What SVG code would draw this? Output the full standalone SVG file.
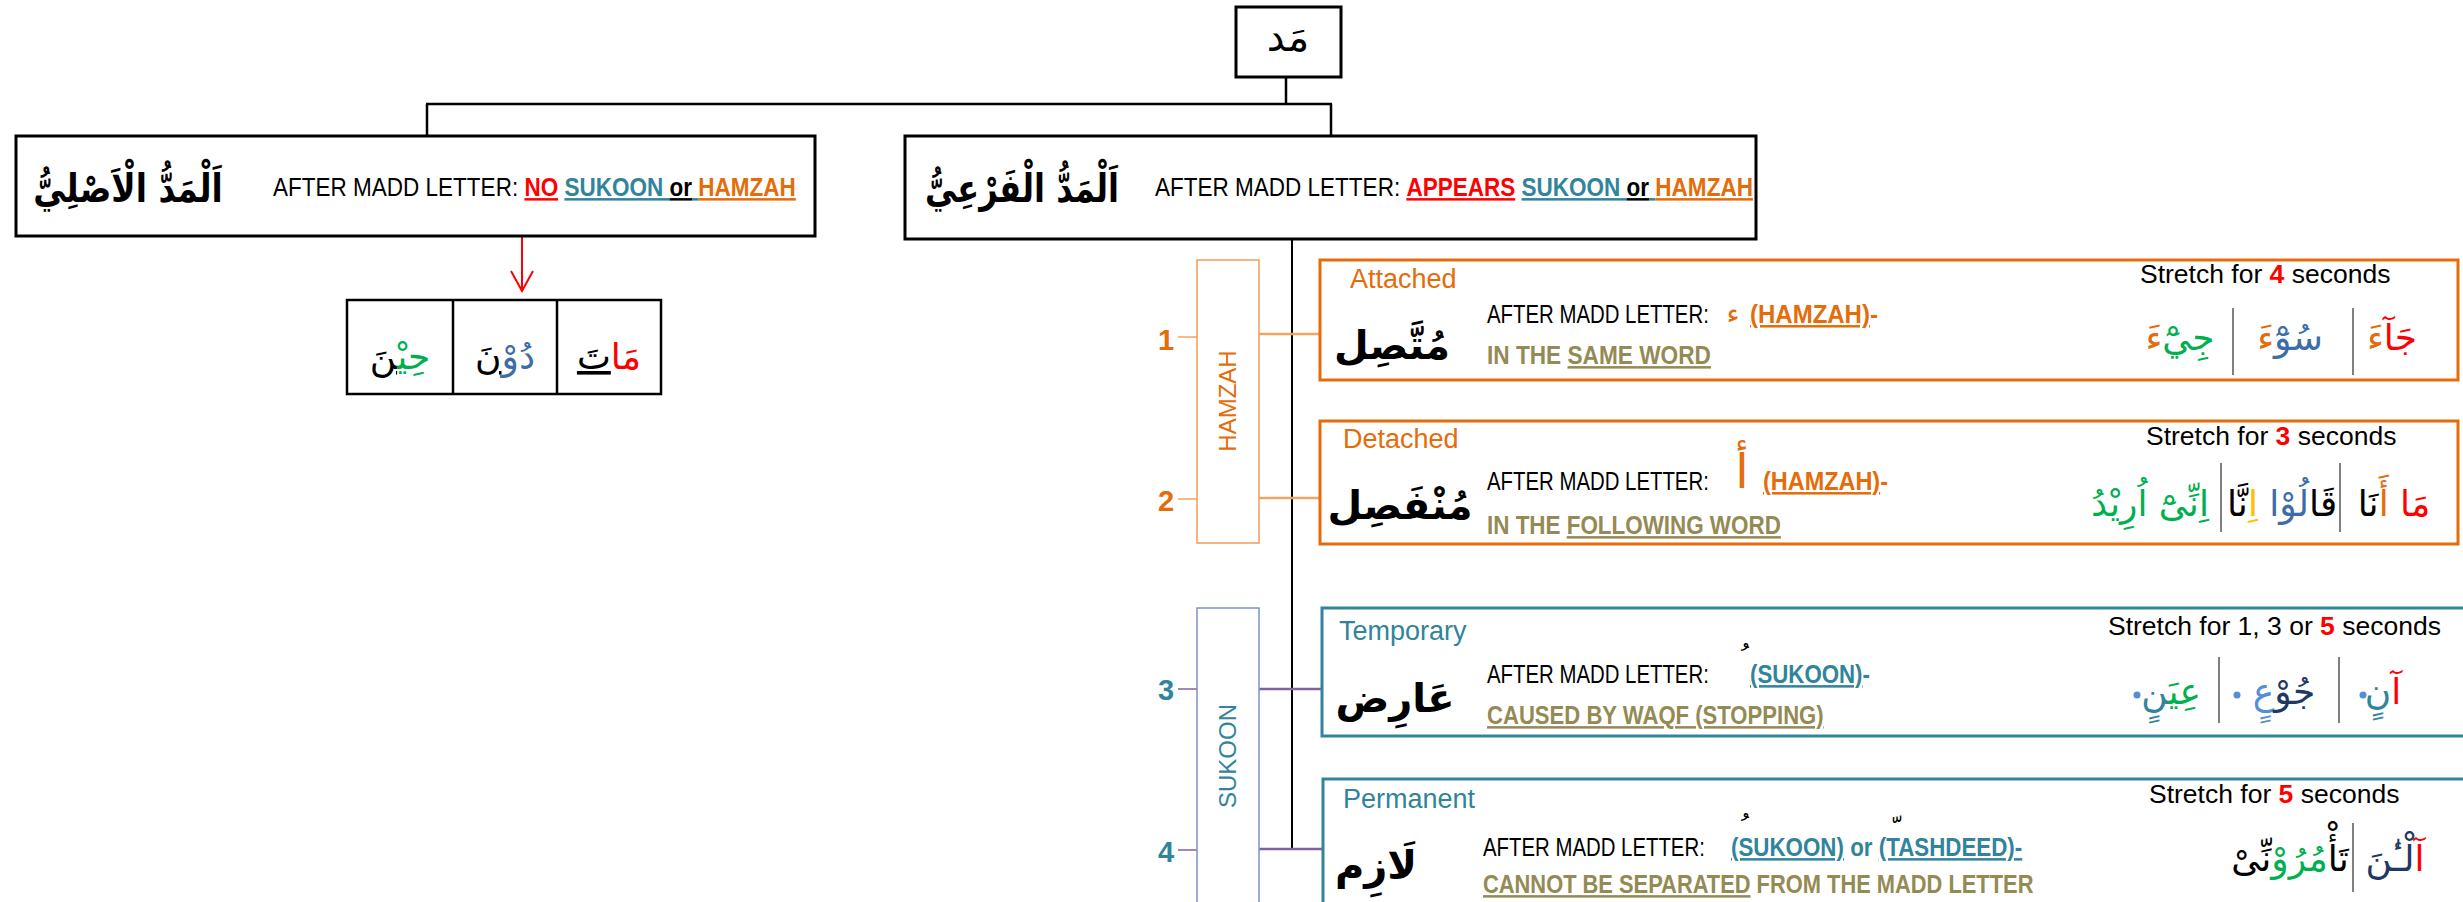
<svg xmlns="http://www.w3.org/2000/svg" width="2463" height="902" viewBox="0 0 2463 902">
<style>
.en{font-family:'Liberation Sans',Arial,sans-serif;font-size:25px;fill:#000}
.lb{font-family:'Liberation Sans',Arial,sans-serif;font-size:27px}
.st{font-family:'Liberation Sans',Arial,sans-serif;font-size:26.5px;fill:#000}
.ar{font-family:'DejaVu Sans',sans-serif;fill:#000}
.tt{font-weight:bold}
.b{font-weight:bold}
.u{text-decoration:underline}
.red{fill:#FF0000}
.teal{fill:#31849B}
.org{fill:#E46C0A}
.olv{fill:#948A54}
.blu{fill:#3C6DA8}
.grn{fill:#00B050}
.nav{fill:#1F3864}
.lbl{fill:#558ED5}
.yel{fill:#FFC000}
.box{fill:#fff;stroke:#000;stroke-width:3}
.obox{fill:#fff;stroke:#E46C0A;stroke-width:3}
.tbox{fill:#fff;stroke:#31849B;stroke-width:3}
.div{stroke:#808080;stroke-width:2}
.num{font-family:'Liberation Sans',Arial,sans-serif;font-size:29px;font-weight:bold;text-anchor:middle}
</style>
<defs>
<marker id="arrR" viewBox="0 0 24 24" markerWidth="24" markerHeight="24" refX="22" refY="12" orient="auto" markerUnits="userSpaceOnUse">
<path d="M2,1 L22,12 L2,23" fill="none" stroke="#FF0000" stroke-width="2"/>
</marker>
</defs>
<rect width="2463" height="902" fill="#fff"/>

<g id="connectors" fill="none">
<path d="M1286 77 V104 M426 104 H1332 M427 104 V136 M1331 104 V136" stroke="#000" stroke-width="2.5"/>
<path d="M1292 239 V849" stroke="#000" stroke-width="2"/>
<path d="M522 237 V291" stroke="#FF0000" stroke-width="2" marker-end="url(#arrR)"/>
<path d="M1259 334 H1320 M1259 498 H1320" stroke="#F4A460" stroke-width="2.5"/>
<path d="M1259 689 H1322 M1259 849 H1323" stroke="#7F6499" stroke-width="2.5"/>
<path d="M1178 337 H1197 M1178 499 H1197" stroke="#F4A460" stroke-width="1.5"/>
<path d="M1178 689 H1197 M1178 850 H1197" stroke="#7F6499" stroke-width="1.5"/>
</g>

<g id="node-madd">
<rect class="box" x="1236" y="7" width="105" height="70"/>
<text class="ar" x="1288" y="51" font-size="40" text-anchor="middle">مَد</text>
</g>

<g id="node-asli">
<rect class="box" x="16" y="136" width="799" height="100"/>
<text class="ar tt" transform="translate(128,202) scale(0.84,1)" font-size="39" text-anchor="middle">اَلْمَدُّ الْاَصْلِيُّ</text>
<text class="en" transform="translate(273,196) scale(0.901,1)">AFTER MADD LETTER: <tspan class="b u red">NO</tspan> <tspan class="b u teal">SUKOON </tspan><tspan class="b u">or</tspan><tspan class="b u teal"> </tspan><tspan class="b u org">HAMZAH</tspan></text>
</g>

<g id="node-examples-asli">
<rect fill="#fff" stroke="#000" stroke-width="2.5" x="347" y="300" width="314" height="94"/>
<path d="M453 300 V394 M557 300 V394" stroke="#000" stroke-width="2.5"/>
<text class="ar" x="400" y="369" font-size="36" text-anchor="middle"><tspan class="grn">حِيْ</tspan><tspan class="u">نَ</tspan></text>
<text class="ar" x="505" y="369" font-size="36" text-anchor="middle"><tspan class="blu">دُوْ</tspan><tspan class="u">نَ</tspan></text>
<text class="ar" x="609" y="369" font-size="36" text-anchor="middle"><tspan class="red">مَا</tspan><tspan class="u">تَ</tspan></text>
</g>

<g id="node-fari">
<rect class="box" x="905" y="136" width="851" height="103"/>
<text class="ar tt" transform="translate(1022,202) scale(0.82,1)" font-size="39" text-anchor="middle">اَلْمَدُّ الْفَرْعِيُّ</text>
<text class="en" transform="translate(1155,196) scale(0.901,1)">AFTER MADD LETTER: <tspan class="b u red">APPEARS</tspan> <tspan class="b u teal">SUKOON </tspan><tspan class="b u">or</tspan><tspan class="b u teal"> </tspan><tspan class="b u org">HAMZAH</tspan></text>
</g>

<g id="node-hamzah-group">
<rect x="1197" y="260" width="62" height="283" fill="#fff" stroke="#F19C5A" stroke-width="1.5"/>
<text transform="translate(1236,401) rotate(-90)" font-family="'Liberation Sans',Arial,sans-serif" font-size="24" fill="#E46C0A" text-anchor="middle">HAMZAH</text>
<text class="num org" x="1166" y="350">1</text>
<text class="num org" x="1166" y="511">2</text>
</g>

<g id="node-sukoon-group">
<rect x="1197" y="608" width="62" height="300" fill="#fff" stroke="#7E90C8" stroke-width="1.5"/>
<text transform="translate(1236,756) rotate(-90)" font-family="'Liberation Sans',Arial,sans-serif" font-size="24" fill="#31849B" text-anchor="middle">SUKOON</text>
<text class="num teal" x="1166" y="700">3</text>
<text class="num teal" x="1166" y="862">4</text>
</g>

<g id="node-muttasil">
<rect class="obox" x="1320" y="260" width="1138" height="120"/>
<text class="lb org" x="1350" y="288">Attached</text>
<text class="ar tt" x="1392" y="359" font-size="40" text-anchor="middle">مُتَّصِل</text>
<text class="en" transform="translate(1487,323) scale(0.815,1)">AFTER MADD LETTER:</text>
<text class="ar org" x="1733" y="323" font-size="28" text-anchor="middle">ء</text>
<text class="en b org" transform="translate(1750,323) scale(0.96,1)"><tspan class="u">(HAMZAH)</tspan>-</text>
<text class="en b olv" transform="translate(1487,364) scale(0.906,1)">IN THE <tspan class="u">SAME WORD</tspan></text>
<text class="st" x="2140" y="283">Stretch for <tspan class="b red">4</tspan> seconds</text>
<path class="div" d="M2233 308 V375 M2353 308 V375"/>
<text class="ar" x="2392" y="350" font-size="36" text-anchor="middle"><tspan class="red">جَآ</tspan><tspan class="org">ءَ</tspan></text>
<text class="ar" x="2290" y="350" font-size="36" text-anchor="middle"><tspan class="blu">سُوْٓ</tspan><tspan class="org">ءَ</tspan></text>
<text class="ar" x="2180" y="350" font-size="36" text-anchor="middle"><tspan class="grn">جِيْٓ</tspan><tspan class="org">ءَ</tspan></text>
</g>

<g id="node-munfasil">
<rect class="obox" x="1320" y="421" width="1138" height="123"/>
<text class="lb org" x="1343" y="448" font-size="26">Detached</text>
<text class="ar tt" x="1400" y="519" font-size="40" text-anchor="middle">مُنْفَصِل</text>
<text class="en" transform="translate(1487,490) scale(0.815,1)">AFTER MADD LETTER:</text>
<text class="ar org" x="1742" y="488" font-size="48" text-anchor="middle">أ</text>
<text class="en b org" transform="translate(1763,490) scale(0.938,1)"><tspan class="u">(HAMZAH)</tspan>-</text>
<text class="en b olv" transform="translate(1487,534) scale(0.897,1)">IN THE <tspan class="u">FOLLOWING WORD</tspan></text>
<text class="st" x="2146" y="445">Stretch for <tspan class="b red">3</tspan> seconds</text>
<path class="div" d="M2221 463 V532 M2340 463 V532"/>
<text class="ar" x="2394" y="516" font-size="36" text-anchor="middle"><tspan class="red">مَا </tspan><tspan class="org">أَ</tspan><tspan>نَا</tspan></text>
<text class="ar" x="2282" y="516" font-size="36" text-anchor="middle"><tspan>قَا</tspan><tspan class="blu">لُوْا </tspan><tspan class="yel">اِ</tspan><tspan>نَّا</tspan></text>
<text class="ar grn" x="2150" y="516" font-size="36" text-anchor="middle">اِنِّىْٓ اُرِيْدُ</text>
</g>

<g id="node-arid">
<rect class="tbox" x="1322" y="608" width="1160" height="128"/>
<text class="lb teal" x="1339" y="640">Temporary</text>
<text class="ar tt" x="1395" y="712" font-size="40" text-anchor="middle">عَارِض</text>
<text class="en" transform="translate(1487,683) scale(0.815,1)">AFTER MADD LETTER:</text>
<text class="ar" x="1738" y="668" font-size="28" text-anchor="middle"> ُ</text>
<text class="en b teal" transform="translate(1750,683) scale(0.891,1)"><tspan class="u">(SUKOON)</tspan>-</text>
<text class="en b olv u" transform="translate(1487,724) scale(0.884,1)">CAUSED BY WAQF (STOPPING)</text>
<text class="st" x="2108" y="635">Stretch for 1, 3 or <tspan class="b red">5</tspan> seconds</text>
<path class="div" d="M2219 657 V723 M2339 657 V723"/>
<text class="ar" x="2383" y="704" font-size="36" text-anchor="middle"><tspan class="red">آ</tspan><tspan class="teal">نٍ</tspan></text>
<text class="ar" x="2284" y="704" font-size="36" text-anchor="middle"><tspan class="nav">جُوْ</tspan><tspan class="lbl">عٍ</tspan></text>
<text class="ar" x="2171" y="704" font-size="36" text-anchor="middle"><tspan class="grn">عِيَ</tspan><tspan class="teal">نٍ</tspan></text>
<circle class="lbl" cx="2363" cy="695" r="3.5"/>
<circle class="lbl" cx="2237" cy="695" r="3.5"/>
<circle class="lbl" cx="2137" cy="695" r="3.5"/>
</g>

<g id="node-lazim">
<rect class="tbox" x="1323" y="779" width="1160" height="140"/>
<text class="lb teal" x="1343" y="808">Permanent</text>
<text class="ar tt" x="1376" y="879" font-size="40" text-anchor="middle">لَازِم</text>
<text class="en" transform="translate(1483,856) scale(0.815,1)">AFTER MADD LETTER:</text>
<text class="ar" x="1738" y="838" font-size="28" text-anchor="middle"> ُ</text>
<text class="ar" x="1890" y="840" font-size="28" text-anchor="middle"> ّ</text>
<text class="en b teal" transform="translate(1731,856) scale(0.894,1)"><tspan class="u">(SUKOON)</tspan> or <tspan class="u">(TASHDEED)-</tspan></text>
<text class="en b olv" transform="translate(1483,893) scale(0.875,1)"><tspan class="u">CANNOT BE SEPARATED</tspan> FROM THE MADD LETTER</text>
<text class="st" x="2149" y="803">Stretch for <tspan class="b red">5</tspan> seconds</text>
<path class="div" d="M2353 823 V892"/>
<text class="ar" x="2395" y="871" font-size="36" text-anchor="middle"><tspan class="red">آ</tspan><tspan class="nav">لْـٰٔنَ</tspan></text>
<text class="ar" x="2290" y="871" font-size="36" text-anchor="middle"><tspan>تَأْ</tspan><tspan class="grn">مُرُوْ</tspan><tspan>نِّىْ</tspan></text>
</g>
</svg>
